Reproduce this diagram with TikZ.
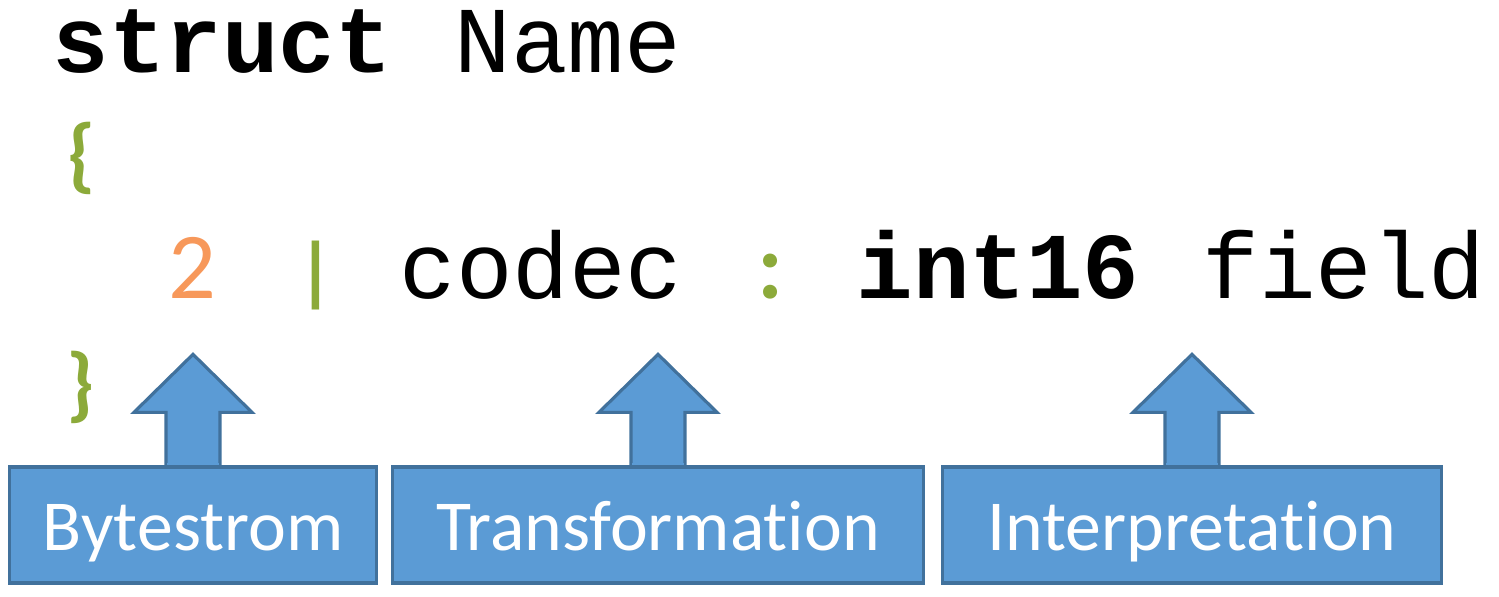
\documentclass[tikz,border=0pt]{standalone}
\usepackage{fontspec}
\setmonofont{Liberation Mono}
\newfontfamily\labelfont[Ligatures=NoCommon]{Carlito}
\usetikzlibrary{positioning}
\definecolor{CalloutFill}{HTML}{5B9BD5}
\definecolor{CalloutLine}{HTML}{41719C}
\definecolor{BraceGreen}{HTML}{8CAA3A}
\definecolor{WidthOrange}{HTML}{F7985A}
\tikzset{
    code/.style={anchor=base west, inner sep=0pt, text height=0.6cm, text depth=0.1cm, font=\fontsize{26.8}{30}\selectfont\ttfamily},
    codekw/.style={code, font=\fontsize{26.8}{30}\selectfont\ttfamily\bfseries},
    sym/.style={anchor=base west, inner sep=0pt, text=BraceGreen, font=\fontsize{26.8}{30}\selectfont\labelfont\bfseries},
    brace/.style={sym, font=\fontsize{23.5}{26}\selectfont\labelfont\bfseries},
    callout/.style={
        shape=rectangle,
        draw=CalloutLine,
        fill=CalloutFill,
        line width=0.9pt,
        minimum height=1.16cm,
        inner sep=0pt,
        text height=0.5cm,
        text depth=0cm,
        text=white,
        font=\fontsize{20.4}{24}\selectfont\labelfont,
        append after command={
            \pgfextra{
                \draw[CalloutLine, fill=CalloutFill, line width=0.9pt] ([xshift=-0.27cm]\tikzlastnode.north) -- ++(0cm,0.53cm) -- ++(-0.32cm,0cm) -- ([yshift=1.11cm]\tikzlastnode.north) -- ([xshift=0.59cm, yshift=0.53cm]\tikzlastnode.north) -- ++(-0.32cm,0cm) -- ++(0cm,-0.53cm);
                \fill[CalloutFill] ([xshift=-0.255cm, yshift=-0.7pt]\tikzlastnode.north) rectangle ([xshift=0.255cm, yshift=0.7pt]\tikzlastnode.north);
            }
        }
    }
}

\begin{document}
\begin{tikzpicture}[x=0.01cm, y=-0.01cm]
\useasboundingbox (0,0) rectangle (1499,596);

% Code lines
\node[codekw] (kw_struct) at (52, 72) {struct};
\node[code] (id_name) at (454, 72) {Name};
\node[brace] (br_open) at (67, 182) {\{};
\node[sym, text=WidthOrange, font=\fontsize{26.8}{30}\selectfont\labelfont] (sym_width) at (168, 298) {2};
\node[sym, font=\fontsize{22}{26}\selectfont\labelfont\bfseries] (sym_pipe) at (297, 297) {|};
\node[code] (id_codec) at (399, 298) {codec};
\node[sym] (sym_colon) at (757, 298) {:};
\node[codekw] (kw_type) at (856, 298) {int16};
\node[code] (id_field) at (1202, 298) {field};
\node[brace] (br_close) at (66, 411) {\}};

% Callouts
\node[callout, minimum width=3.66cm] (c_byte) at (193, 525) {Bytestrom};
\node[callout, minimum width=5.30cm] (c_trans) at (658, 525) {Transformation};
\node[callout, minimum width=4.99cm] (c_interp) at (1192, 525) {Interpretation};

\end{tikzpicture}
\end{document}
